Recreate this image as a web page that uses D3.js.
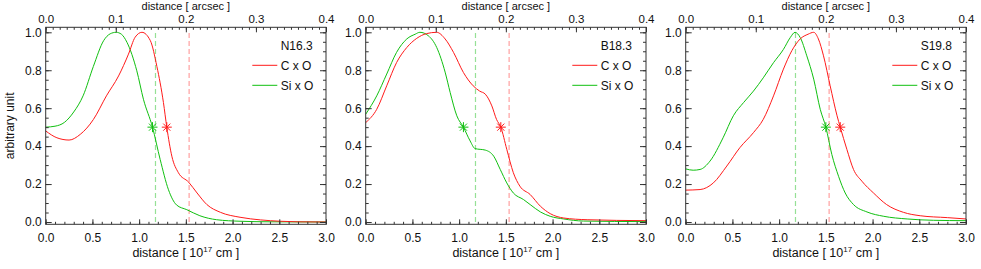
<!DOCTYPE html>
<html><head><meta charset="utf-8">
<script src="https://cdn.jsdelivr.net/npm/d3@7"></script>
<style>
html,body{margin:0;padding:0;background:#fff;}
svg{display:block;font-family:"Liberation Sans",Arial,Helvetica,sans-serif;}
</style></head>
<body>
<svg id="chart" width="981" height="269"></svg>
<script>
// ---------- data ----------
const panelNames = ["N16.3", "B18.3", "S19.8"];
const seriesNames = ["C x O", "Si x O"];

// N16.3
const n163_cxo_x = [0, 0.12, 0.25, 0.37, 0.51, 0.65, 0.78, 0.886, 0.957, 1.03, 1.12, 1.19, 1.26, 1.296, 1.35, 1.42, 1.53, 1.62, 1.725, 1.87, 2.08, 2.3, 2.51, 2.69, 3.0];
const n163_cxo_y = [0.48, 0.444, 0.432, 0.462, 0.54, 0.665, 0.77, 0.885, 0.974, 1.0, 0.956, 0.82, 0.63, 0.5, 0.347, 0.26, 0.21, 0.153, 0.092, 0.051, 0.025, 0.011, 0.004, 0.001, 0];
const n163_sixo_x = [0, 0.1, 0.2, 0.3, 0.4, 0.51, 0.62, 0.69, 0.754, 0.81, 0.87, 0.975, 1.046, 1.143, 1.225, 1.314, 1.40, 1.51, 1.65, 1.83, 2.08, 2.4, 3.0];
const n163_sixo_y = [0.50, 0.505, 0.525, 0.58, 0.665, 0.82, 0.956, 0.992, 1.0, 0.99, 0.947, 0.797, 0.647, 0.5, 0.33, 0.17, 0.09, 0.065, 0.033, 0.012, 0.004, 0.001, 0];

// B18.3
const b183_cxo_x = [0, 0.118, 0.225, 0.33, 0.44, 0.546, 0.65, 0.76, 0.85, 0.94, 1.046, 1.15, 1.22, 1.28, 1.35, 1.40, 1.446, 1.51, 1.58, 1.65, 1.76, 1.87, 1.975, 2.12, 2.37, 3.0];
const b183_cxo_y = [0.524, 0.594, 0.718, 0.84, 0.92, 0.968, 0.993, 1.0, 0.965, 0.894, 0.788, 0.718, 0.69, 0.674, 0.612, 0.541, 0.5, 0.383, 0.26, 0.189, 0.145, 0.083, 0.044, 0.021, 0.012, 0.007];
const b183_sixo_x = [0, 0.118, 0.225, 0.33, 0.44, 0.53, 0.58, 0.67, 0.76, 0.85, 0.904, 0.975, 1.046, 1.118, 1.17, 1.28, 1.37, 1.44, 1.51, 1.58, 1.69, 1.76, 1.87, 1.975, 2.12, 2.33, 3.0];
const b183_sixo_y = [0.568, 0.665, 0.78, 0.894, 0.965, 0.99, 1.0, 0.982, 0.92, 0.79, 0.683, 0.56, 0.5, 0.427, 0.387, 0.379, 0.347, 0.277, 0.206, 0.153, 0.118, 0.092, 0.053, 0.03, 0.016, 0.005, 0.002];

// S19.8
const s198_cxo_x = [0, 0.154, 0.296, 0.44, 0.58, 0.725, 0.83, 0.94, 1.046, 1.136, 1.225, 1.31, 1.37, 1.42, 1.475, 1.546, 1.62, 1.654, 1.725, 1.796, 1.886, 2.01, 2.15, 2.33, 2.51, 2.8, 3.0];
const s198_cxo_y = [0.168, 0.171, 0.206, 0.295, 0.392, 0.471, 0.541, 0.665, 0.806, 0.903, 0.965, 0.99, 1.0, 0.965, 0.876, 0.718, 0.56, 0.5, 0.383, 0.277, 0.215, 0.153, 0.092, 0.051, 0.033, 0.023, 0.016];
const s198_sixo_x = [0, 0.08, 0.154, 0.26, 0.40, 0.51, 0.62, 0.725, 0.83, 0.94, 1.046, 1.12, 1.17, 1.225, 1.296, 1.37, 1.44, 1.5, 1.564, 1.636, 1.707, 1.796, 1.94, 2.12, 2.37, 2.65, 3.0];
const s198_sixo_y = [0.28, 0.273, 0.277, 0.321, 0.444, 0.56, 0.63, 0.69, 0.76, 0.84, 0.91, 0.973, 1.0, 0.973, 0.876, 0.753, 0.594, 0.5, 0.356, 0.241, 0.153, 0.092, 0.053, 0.03, 0.016, 0.009, 0.007];

// half-maximum markers (x at y = 0.5)
const halfMaxCxO = [1.296, 1.446, 1.654];
const halfMaxSixO = [1.143, 1.046, 1.5];
const halfLevel = 0.5;
// dashed reference distances (10^17 cm)
const refCxO = 1.535;
const refSixO = 1.175;

// ticks
const xTicks = [0, 0.5, 1.0, 1.5, 2.0, 2.5, 3.0];
const yTicks = [0, 0.2, 0.4, 0.6, 0.8, 1.0];
const topTicks = [0, 0.1, 0.2, 0.3, 0.4];

// ---------- layout ----------
const svg = d3.select("#chart");
const panelLeft = [45.7, 365.7, 685.7];
const panelW = 280.3;
const boxTop = 27.3, boxBottom = 224.3;
const RED = "#ff1a1a", GREEN = "#10c010";
const RED_L = "#ffa0a0", GREEN_L = "#96e096";
const AX = "#333";

const panels = [
  {name: panelNames[0], cx: n163_cxo_x, cy: n163_cxo_y, sx: n163_sixo_x, sy: n163_sixo_y},
  {name: panelNames[1], cx: b183_cxo_x, cy: b183_cxo_y, sx: b183_sixo_x, sy: b183_sixo_y},
  {name: panelNames[2], cx: s198_cxo_x, cy: s198_cxo_y, sx: s198_sixo_x, sy: s198_sixo_y}
];

const y = d3.scaleLinear().domain([0, 1]).range([222, 32.3]);
const yDomBox = [y.invert(boxBottom), y.invert(boxTop)];
y.domain(yDomBox).range([boxBottom, boxTop]);

function range(a, b, s) { const r = []; for (let v = a; v <= b + 1e-9; v += s) r.push(+v.toFixed(4)); return r; }
const xMinor = range(0, 3, 0.1);
const yMinor = range(0, 1, 0.05);
const topMinor = range(0, 0.4, 0.01);

function star(g, cx, cy, r, color) {
  const d = [];
  for (let k = 0; k < 4; k++) {
    const a = k * Math.PI / 4;
    const dx = Math.cos(a) * r, dy = Math.sin(a) * r;
    d.push(`M${cx - dx},${cy - dy}L${cx + dx},${cy + dy}`);
  }
  g.append("path").attr("d", d.join("")).attr("stroke", color).attr("stroke-width", 1).attr("fill", "none");
}

panels.forEach((p, i) => {
  const L = panelLeft[i], R = L + panelW;
  const x = d3.scaleLinear().domain([0, 3]).range([L, R]);
  const xt = d3.scaleLinear().domain([0, 0.4]).range([L, R]);
  const g = svg.append("g");

  // dashed references
  [[refSixO, GREEN_L], [refCxO, RED_L]].forEach(([v, c]) => {
    g.append("line").attr("x1", x(v)).attr("x2", x(v)).attr("y1", y(0)).attr("y2", y(1))
      .attr("stroke", c).attr("stroke-width", 1.2).attr("stroke-dasharray", "5,3");
  });

  // curves
  const line = d3.line().x(d => x(d[0])).y(d => y(d[1])).curve(d3.curveMonotoneX);
  g.append("path").datum(d3.zip(p.sx, p.sy)).attr("d", line)
    .attr("fill", "none").attr("stroke", GREEN).attr("stroke-width", 1);
  g.append("path").datum(d3.zip(p.cx, p.cy)).attr("d", line)
    .attr("fill", "none").attr("stroke", RED).attr("stroke-width", 1);

  star(g, x(halfMaxSixO[i]), y(halfLevel), 5, GREEN);
  star(g, x(halfMaxCxO[i]), y(halfLevel), 5, RED);

  // axes
  const fmt1 = d3.format(".1f");
  const bottomMaj = d3.axisBottom(x).tickValues(xTicks).tickFormat(fmt1).tickSizeInner(-5).tickSizeOuter(0).tickPadding(9);
  const bottomMin = d3.axisBottom(x).tickValues(xMinor).tickFormat("").tickSizeInner(-2.5).tickSizeOuter(0);
  const topMaj = d3.axisTop(xt).tickValues(topTicks).tickFormat(fmt1).tickSizeInner(-5).tickSizeOuter(0).tickPadding(4.5);
  const topMin = d3.axisTop(xt).tickValues(topMinor).tickFormat("").tickSizeInner(-2.5).tickSizeOuter(0);
  const leftMaj = d3.axisLeft(y).tickValues(yTicks).tickFormat(fmt1).tickSizeInner(-6).tickSizeOuter(0).tickPadding(4);
  const leftMin = d3.axisLeft(y).tickValues(yMinor).tickFormat("").tickSizeInner(-3).tickSizeOuter(0);
  const rightMaj = d3.axisRight(y).tickValues(yTicks).tickFormat("").tickSizeInner(-6).tickSizeOuter(0);
  const rightMin = d3.axisRight(y).tickValues(yMinor).tickFormat("").tickSizeInner(-3).tickSizeOuter(0);

  const ax = [
    [bottomMin, `translate(0,${boxBottom})`, 12], [bottomMaj, `translate(0,${boxBottom})`, 12],
    [topMin, `translate(0,${boxTop})`, 11.5], [topMaj, `translate(0,${boxTop})`, 11.5],
    [leftMin, `translate(${L},0)`, 12], [leftMaj, `translate(${L},0)`, 12],
    [rightMin, `translate(${R},0)`, 12], [rightMaj, `translate(${R},0)`, 12]
  ];
  ax.forEach(([a, t, fs]) => {
    const ag = g.append("g").attr("transform", t).call(a);
    ag.selectAll(".domain").remove();
    ag.selectAll("line").attr("stroke", AX);
    ag.selectAll("text").attr("fill", "#111").style("font-size", fs + "px").attr("font-family", null);
  });
  g.append("rect").attr("x", L).attr("y", boxTop).attr("width", panelW).attr("height", boxBottom - boxTop)
    .attr("fill", "none").attr("stroke", AX).attr("stroke-width", 1);

  // axis titles
  const cxm = (L + R) / 2;
  g.append("text").attr("x", cxm).attr("y", 10.1).attr("text-anchor", "middle")
    .style("font-size", "11px").attr("fill", "#111").text("distance [ arcsec ]");
  const bt = g.append("text").attr("x", cxm).attr("y", 257).attr("text-anchor", "middle")
    .style("font-size", "12.5px").attr("fill", "#111");
  bt.append("tspan").text("distance [ 10");
  bt.append("tspan").attr("dy", -5).style("font-size", "8px").text("17");
  bt.append("tspan").attr("dy", 5).text(" cm ]");

  // legend
  const lx = R - 45.3;
  g.append("text").attr("x", lx).attr("y", 46).attr("dy", "0.35em").style("font-size", "12px").attr("fill", "#111").text(p.name);
  [[seriesNames[0], RED, 65.3], [seriesNames[1], GREEN, 85.3]].forEach(([t, c, yy]) => {
    g.append("line").attr("x1", R - 73.7).attr("x2", R - 48.7).attr("y1", yy).attr("y2", yy).attr("stroke", c).attr("stroke-width", 1);
    g.append("text").attr("x", lx).attr("y", yy).attr("dy", "0.35em").style("font-size", "12px").attr("fill", "#111").text(t);
  });
});

svg.append("text").attr("transform", `translate(14,${(boxTop + boxBottom) / 2}) rotate(-90)`)
  .attr("text-anchor", "middle").style("font-size", "12px").attr("fill", "#111").text("arbitrary unit");
</script>
</body></html>
